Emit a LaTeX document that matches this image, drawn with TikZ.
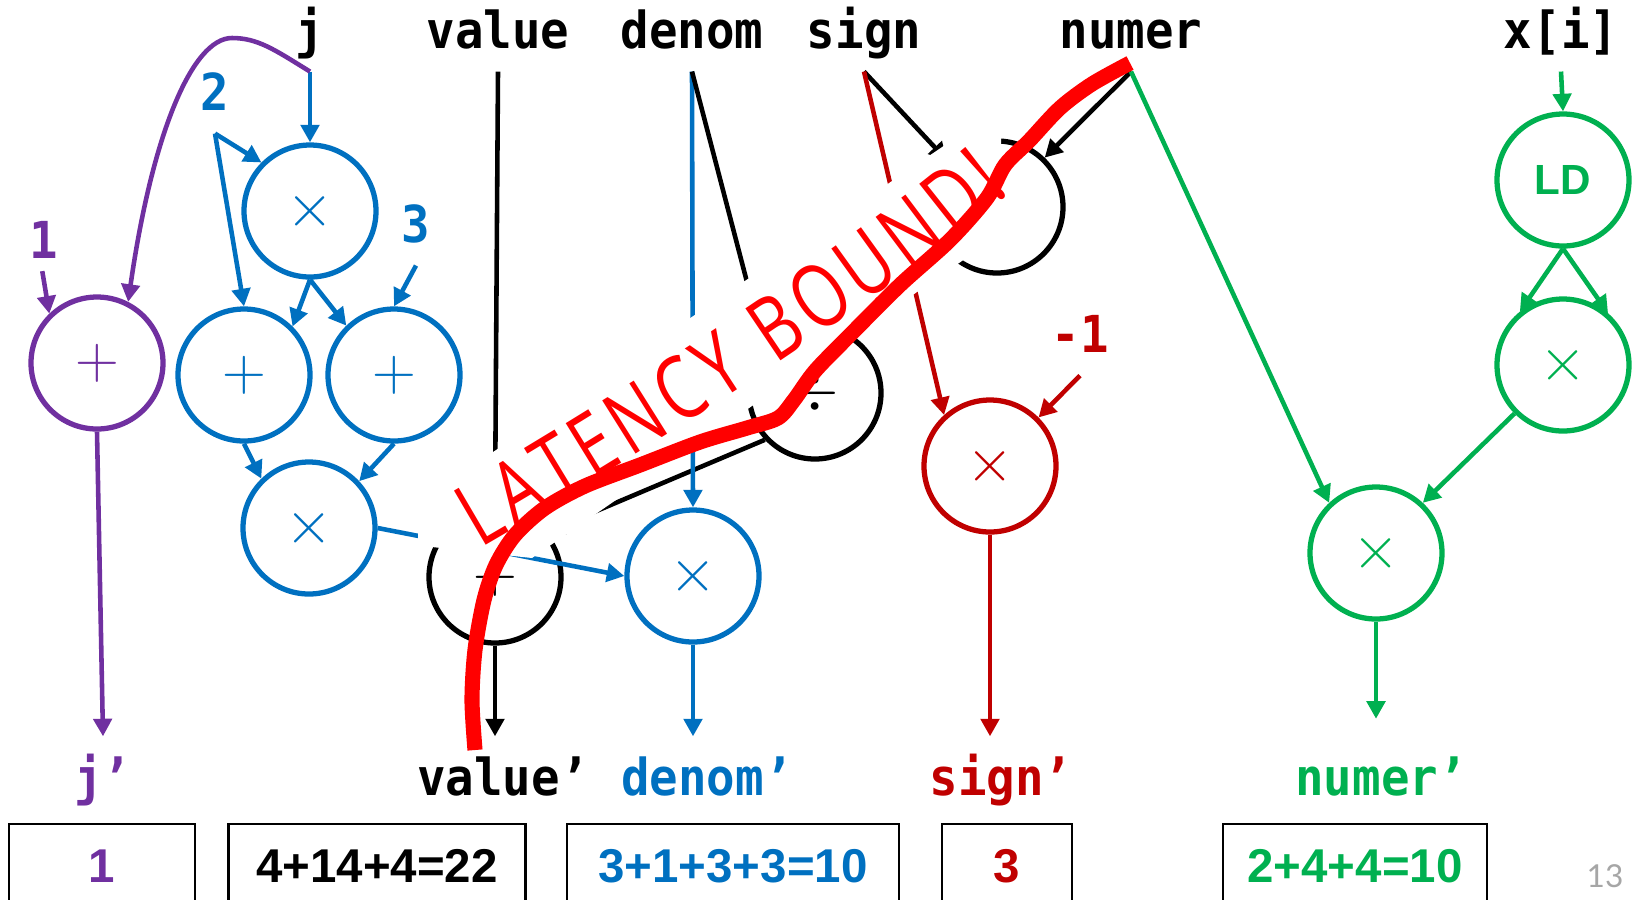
\documentclass[tikz,border=0pt]{standalone}
\usepackage{fontspec}
\usepackage{xcolor}
\usepackage{tikz}
\usetikzlibrary{arrows.meta,decorations.text}
\newfontfamily\codefont{DejaVu Sans Mono}[FakeStretch=0.93]
\newfontfamily\sumfont{Liberation Sans}
\newfontfamily\bandfont{Open Sans}[FakeStretch=0.76]
\newfontfamily\pagefont{Lato}
\definecolor{vioInk}{HTML}{7030A0}
\definecolor{bluInk}{HTML}{0070C0}
\definecolor{redInk}{HTML}{C00000}
\definecolor{grnInk}{HTML}{00B050}
\definecolor{alarm}{HTML}{FF0000}
\definecolor{pgnum}{HTML}{A6A6A6}

\begin{document}
\begin{tikzpicture}[x=0.1mm,y=-0.1mm,>={Triangle[length=5pt,width=5.2pt]},
  op/.style={circle,draw,line width=1.5pt,minimum size=13.2mm,inner sep=0pt,font=\fontsize{16}{16}\selectfont},
  wire/.style={->,line width=1.3pt},
  invar/.style={anchor=base,inner sep=0pt,text depth=6.5pt,font=\codefont\bfseries\fontsize{14.5}{15}\selectfont},
  outvar/.style={anchor=base,inner sep=0pt,text height=16.5pt,font=\codefont\bfseries\fontsize{14.5}{15}\selectfont},
  resbox/.style={draw,line width=0.8pt,inner sep=0pt,minimum height=8.4mm,font=\sumfont\bfseries\fontsize{13.5}{14}\selectfont}]
\useasboundingbox (0,0) rectangle (1638,899);
% inputs
\node[invar] (tj) at (310,48) {j};
\node[invar] (tval) at (498,48) {value};
\node[invar] (tden) at (692,48) {denom};
\node[invar] (tsgn) at (864,48) {sign};
\node[invar] (tnum) at (1131,48) {numer};
\node[invar] (txi) at (1561,48) {x[i]};
% constants
\node[invar,vioInk] (c1) at (44,258) {1};
\node[invar,bluInk] (c2) at (215,110) {2};
\node[invar,bluInk] (c3) at (416,242) {3};
\node[invar,redInk] (cm1) at (1080,352) {-1};
% operations
\node[op,vioInk] (pa) at (97,363) {$+$};
\node[op,bluInk] (bm1) at (310,211) {$\times$};
\node[op,bluInk] (ba1) at (244,375) {$+$};
\node[op,bluInk] (ba2) at (394,375) {$+$};
\node[op,bluInk] (bm2) at (309,528) {$\times$};
\node[op,bluInk] (bm3) at (693,576) {$\times$};
\node[op] (ka) at (495,577) {$+$};
\node[op] (kd) at (815,393) {$\div$};
\node[op] (km) at (997,207) {};
\node[op,redInk] (rm) at (990,466) {$\times$};
\node[op,grnInk,font=\sumfont\bfseries\fontsize{12}{12}\selectfont] (gl) at (1563,180) {LD};
\node[op,grnInk] (gm1) at (1563,365) {$\times$};
\node[op,grnInk] (gm2) at (1376,553) {$\times$};
% outputs
\node[outvar,vioInk] (oj) at (103,795) {j’};
\node[outvar] (oval) at (503,795) {value’};
\node[outvar,bluInk] (oden) at (707,795) {denom’};
\node[outvar,redInk] (osgn) at (1001,795) {sign’};
\node[outvar,grnInk] (onum) at (1381,795) {numer’};
% instruction counts
\node[resbox,text=vioInk,minimum width=18.6mm] (sj) at (102,866) {1};
\node[resbox,minimum width=29.7mm] (sval) at (377,866) {4+14+4=22};
\node[resbox,text=bluInk,minimum width=33.2mm] (sden) at (733,866) {3+1+3+3=10};
\node[resbox,text=redInk,minimum width=13mm] (ssgn) at (1007,866) {3};
\node[resbox,text=grnInk,minimum width=26.4mm] (snum) at (1355,866) {2+4+4=10};
% j
\draw[wire,bluInk] (tj.south) -- (bm1.north);
\draw[wire,vioInk] (tj.south) .. controls (275,50) and (258,38) .. (232,38) .. controls (192,38) and (152,135) .. (pa.63);
\draw[wire,vioInk,shorten <=-3pt] (c1.south) -- (pa.134);
\draw[wire,vioInk] (pa.south) -- (oj.north);
% value
\draw[wire,bluInk] (c2.south) -- (bm1.135);
\draw[wire,bluInk] (c2.south) -- (ba1.north);
\draw[wire,bluInk] (c3.south) -- (ba2.north);
\draw[wire,bluInk] (bm1.south) -- (ba1.45);
\draw[wire,bluInk] (bm1.south) -- (ba2.134);
\draw[wire,bluInk] (ba1.south) -- (bm2.134);
\draw[wire,bluInk] (ba2.south) -- (bm2.43);
\draw[wire,bluInk] (bm2.east) -- (bm3.west);
\draw[wire] (tval.south) -- (ka.north);
\draw[wire] (kd.223) -- (ka.41);
\draw[wire] (ka.south) -- (oval.north -| ka.south);
% denom
\draw[wire,bluInk] (tden.south) -- (bm3.north);
\draw[wire] (tden.south) -- (kd.138);
\draw[wire,bluInk] (bm3.south) -- (oden.north -| bm3.south);
% sign
\draw[wire] (tsgn.south) -- (km.137);
\draw[wire,redInk] (tsgn.south) -- (rm.132);
\draw[wire,redInk] (cm1.south) -- (rm.45);
\draw[wire,redInk] (rm.south) -- (osgn.north -| rm.south);
% numer
\draw[wire] (tnum.south) -- (km.46);
\draw[wire,grnInk] (tnum.south) -- (gm2.133);
\draw[wire,grnInk] (txi.south) -- (gl.north);
\draw[wire,grnInk] (gl.south) -- (gm1.129);
\draw[wire,grnInk] (gl.south) -- (gm1.49);
\draw[wire,grnInk] (gm1.225) -- (gm2.47);
\draw[wire,grnInk,shorten >=5pt] (gm2.south) -- (onum.north -| gm2.south);
% annotation
\fill[white] (418,503) -- (1001,107) -- (1001,234) -- (532,558) -- (432,547) -- (418,541) -- cycle;
\path[decorate,decoration={text along path,text align={fit to path},
  text={|\bandfont\fontsize{25}{25}\selectfont\color{alarm}|LATENCY BOUND!}}]
  (480,548) .. controls (640,455) and (870,310) .. (1010,192);
\draw[alarm,line width=4.3pt,line join=round] plot[smooth,tension=0.5] coordinates {
  (1130,63) (1092,84) (1060,108) (1029,141) (1005,165) (987,198) (950,240) (900,285)
  (850,335) (815,371) (794,400) (778,418) (747,428) (700,442) (640,465) (585,486)
  (545,508) (515,535) (496,565) (484,600) (475,650) (472,700) (475,750)};
\node[font=\pagefont\fontsize{9}{9}\selectfont,text=pgnum] (pg) at (1605,876) {13};
\end{tikzpicture}
\end{document}
